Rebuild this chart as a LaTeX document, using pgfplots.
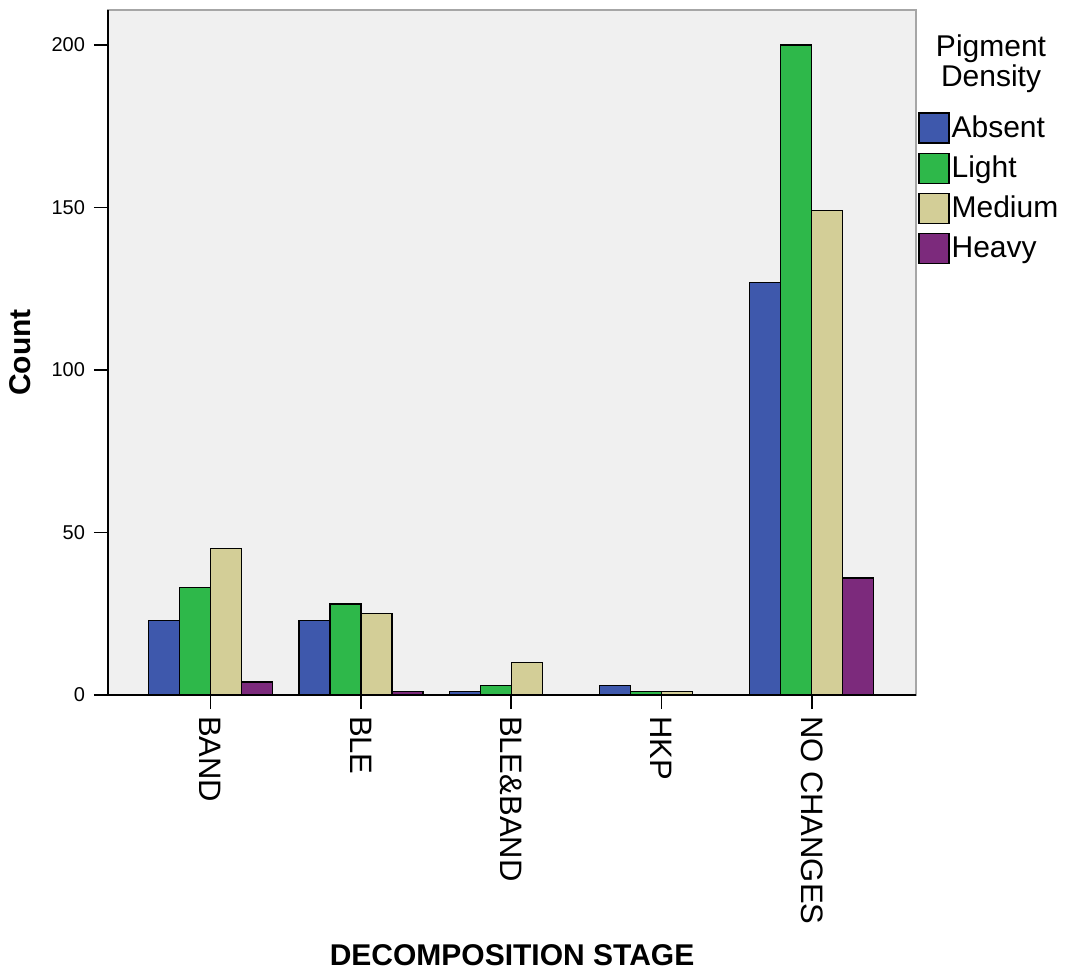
\documentclass[border=0pt]{standalone}
\usepackage{fontspec}
\setmainfont{Liberation Sans}
\usepackage{pgfplots}
\pgfplotsset{compat=1.18}
\definecolor{cAbsent}{HTML}{3E58AC}
\definecolor{cLight}{HTML}{2EB84A}
\definecolor{cMedium}{HTML}{D3CE97}
\definecolor{cHeavy}{HTML}{7C2A7C}
\definecolor{bgray}{HTML}{F0F0F0}
\begin{document}
\begin{tikzpicture}
\begin{axis}[
  name=ax,
  scale only axis, width=404pt, height=342.5pt,
  ybar=0pt, bar width=15.5pt,
  xmin=-0.683, xmax=4.694, ymin=0, ymax=210.77,
  xtick={0,1,2,3,4},
  xticklabels={BAND,BLE,BLE\&BAND,HKP,NO CHANGES},
  ytick={0,50,100,150,200},
  axis x line*=bottom, axis y line*=left,
  axis line style={-, black, line width=0.8pt},
  axis background/.style={fill=bgray, draw=gray!70, line width=0.8pt},
  tick align=outside, major tick length=7pt,
  tick style={black, line width=0.8pt},
  /pgf/number format/assume math mode=true,
  yticklabel style={font=\fontsize{10}{12}\selectfont, xshift=-1pt},
  xticklabel style={font=\fontsize{15.5}{18}\selectfont, rotate=-90, anchor=west, xshift=0pt},
  xlabel={\textbf{DECOMPOSITION STAGE}},
  ylabel={\textbf{Count}},
  x label style={font=\fontsize{15}{18}\selectfont, at={(axis description cs:0.5,-0.3796)}, anchor=center},
  y label style={font=\fontsize{15}{18}\selectfont, at={(axis description cs:-0.109,0.5)}, anchor=center},
  legend style={at={(rel axis cs:1,1)}, anchor=north west, xshift=1pt, yshift=-51pt,
    draw=none, fill=none, inner sep=0pt, row sep=4.5pt,
    font=\fontsize{15}{15.5}\selectfont,
    nodes={inner sep=1pt, anchor=west}},
  legend cell align=left,
]
\addplot[fill=cAbsent, draw=black, line width=0.6pt,
  legend image code/.code={\draw[fill=cAbsent, draw=black, line width=0.6pt] (0pt,-7.5pt) rectangle (15pt,7.5pt);}]
  coordinates {(0,23) (1,23) (2,1) (3,3) (4,127)};
\addplot[fill=cLight, draw=black, line width=0.6pt,
  legend image code/.code={\draw[fill=cLight, draw=black, line width=0.6pt] (0pt,-7.5pt) rectangle (15pt,7.5pt);}]
  coordinates {(0,33) (1,28) (2,3) (3,1) (4,200)};
\addplot[fill=cMedium, draw=black, line width=0.6pt,
  legend image code/.code={\draw[fill=cMedium, draw=black, line width=0.6pt] (0pt,-7.5pt) rectangle (15pt,7.5pt);}]
  coordinates {(0,45) (1,25) (2,10) (3,1) (4,149)};
\addplot[fill=cHeavy, draw=black, line width=0.6pt,
  legend image code/.code={\draw[fill=cHeavy, draw=black, line width=0.6pt] (0pt,-7.5pt) rectangle (15pt,7.5pt);}]
  coordinates {(0,4) (1,1) (2,0) (3,0) (4,36)};
\legend{Absent,Light,Medium,Heavy}
\end{axis}
\node[align=center, anchor=north, inner sep=0pt, font=\fontsize{15}{13.5}\selectfont]
  at ([xshift=37.5pt, yshift=-12pt]ax.north east) {Pigment\\Density};
\path (ax.south west) ++(-54pt,347.5pt) coordinate (tl);
\path (ax.south west) ++(480.5pt,-138.5pt) coordinate (br);
\path (tl) rectangle (br);
\end{tikzpicture}
\end{document}
